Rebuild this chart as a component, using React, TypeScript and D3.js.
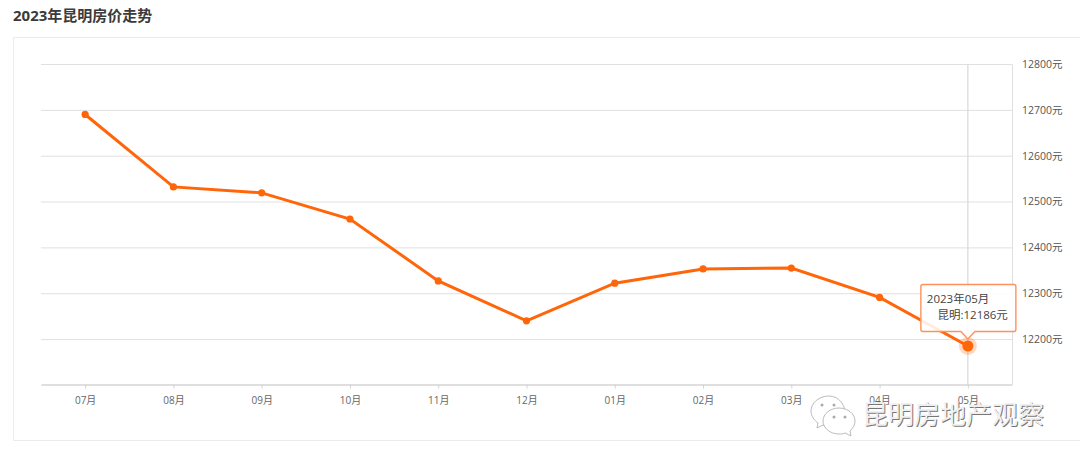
import { useEffect, useRef } from 'react';

import { axisBottom, axisRight, line, scaleLinear, scalePoint, select } from 'd3';

const months = ['07月', '08月', '09月', '10月', '11月', '12月', '01月', '02月', '03月', '04月', '05月'];
const prices = [12691, 12533, 12520, 12463, 12328, 12241, 12323, 12354, 12356, 12292, 12186];
const priceTicks = [12200, 12300, 12400, 12500, 12600, 12700, 12800];

const title = '2023年昆明房价走势';
const tipMonth = '2023年05月';
const tipValue = '昆明:12186元';
const watermark = '昆明房地产观察';

const fontFamily = '"Open Sans", "Noto Sans CJK SC", sans-serif';
const orange = '#ff6509';

export default function App() {
  const svgRef = useRef<SVGSVGElement>(null);

  useEffect(() => {
    const el = svgRef.current;
    if (!el) return;

    const svg = select(el);
    svg.selectAll('*').remove();
    svg.attr('font-family', fontFamily);

    // title and outer frame
    svg
      .append('text')
      .attr('x', 13)
      .attr('y', 21)
      .attr('font-size', 15)
      .attr('font-weight', 700)
      .attr('fill', '#3a3a3a')
      .text(title);

    svg
      .append('rect')
      .attr('x', 13.5)
      .attr('y', 37.5)
      .attr('width', 1080)
      .attr('height', 403)
      .attr('fill', '#fff')
      .attr('stroke', '#ececec');

    const left = 41,
      right = 1012,
      top = 64.5,
      bottom = 384.5;

    const x = scalePoint<string>().domain(months).range([left, right]).padding(0.5);
    const y = scaleLinear().domain([12102, 12800]).range([bottom, top]);

    // horizontal grid lines
    svg
      .append('g')
      .selectAll('line')
      .data(priceTicks)
      .join('line')
      .attr('x1', left)
      .attr('x2', right)
      .attr('y1', (d) => y(d))
      .attr('y2', (d) => y(d))
      .attr('stroke', '#e0e0e0');

    // right axis
    const yAxis = svg
      .append('g')
      .attr('transform', `translate(${right},-0.5)`)
      .call(
        axisRight(y)
          .tickValues(priceTicks)
          .tickSize(0)
          .tickPadding(10)
          .tickFormat((d) => `${d}元`),
      );
    yAxis.select('.domain').attr('stroke', '#e0e0e0');
    yAxis
      .selectAll('text')
      .attr('font-family', fontFamily)
      .attr('font-size', 10.5)
      .attr('fill', '#555');

    // bottom axis
    const xAxis = svg
      .append('g')
      .attr('transform', `translate(0,${bottom})`)
      .call(axisBottom(x).tickSize(4).tickPadding(8).tickSizeOuter(0));
    xAxis.select('.domain').attr('stroke', '#d4d4d4').attr('stroke-width', 1.5);
    xAxis.selectAll('.tick line').attr('stroke', '#d4d4d4');
    xAxis
      .selectAll('text')
      .attr('font-family', fontFamily)
      .attr('font-size', 10)
      .attr('fill', '#666');

    // hover cursor on the last month
    const last = months.length - 1;
    const lastX = x(months[last]) as number;
    const lastY = y(prices[last]);
    svg
      .append('line')
      .attr('x1', lastX)
      .attr('x2', lastX)
      .attr('y1', top)
      .attr('y2', bottom)
      .attr('stroke', '#d8d8d8')
      .attr('stroke-width', 1.2);

    // price line
    const path = line<number>()
      .x((_, i) => x(months[i]) as number)
      .y((d) => y(d));
    svg
      .append('path')
      .attr('d', path(prices))
      .attr('fill', 'none')
      .attr('stroke', orange)
      .attr('stroke-width', 3);

    svg
      .append('g')
      .selectAll('circle')
      .data(prices)
      .join('circle')
      .attr('cx', (_, i) => x(months[i]) as number)
      .attr('cy', (d) => y(d))
      .attr('r', 3.6)
      .attr('fill', orange);

    svg
      .append('circle')
      .attr('cx', lastX)
      .attr('cy', lastY)
      .attr('r', 9)
      .attr('fill', orange)
      .attr('opacity', 0.25);
    svg.append('circle').attr('cx', lastX).attr('cy', lastY).attr('r', 5.5).attr('fill', orange);

    // tooltip
    const tip = svg.append('g').attr('transform', `translate(${lastX},${lastY})`);
    tip
      .append('path')
      .attr(
        'd',
        'M-45,-61.5 H46 Q48,-61.5 48,-59.5 V-16.5 Q48,-14.5 46,-14.5 H7 L0,-7 L-7,-14.5 H-45 Q-47,-14.5 -47,-16.5 V-59.5 Q-47,-61.5 -45,-61.5 Z',
      )
      .attr('fill', '#fff')
      .attr('fill-opacity', 0.88)
      .attr('stroke', '#ff9258')
      .attr('stroke-width', 1.4);
    tip
      .append('text')
      .attr('x', -41)
      .attr('y', -43)
      .attr('font-size', 11.5)
      .attr('fill', '#444')
      .text(tipMonth);
    tip
      .append('text')
      .attr('x', 40)
      .attr('y', -26.5)
      .attr('text-anchor', 'end')
      .attr('font-size', 11.5)
      .attr('fill', '#444')
      .text(tipValue);

    // watermark
    const mark = svg.append('g');
    mark
      .append('text')
      .attr('x', 863)
      .attr('y', 425)
      .attr('font-size', 26)
      .attr('fill', '#777')
      .text(watermark);
    mark
      .append('text')
      .attr('x', 862)
      .attr('y', 424)
      .attr('font-size', 26)
      .attr('fill', '#f0f0f0')
      .text(watermark);

    const icon = mark
      .append('g')
      .attr('fill', '#fff')
      .attr('stroke', '#bbb')
      .attr('stroke-width', 1);
    icon
      .append('path')
      .attr(
        'd',
        'M829,396 C819,396 811,403 811,411 C811,416 814,420 818,423 L817,428 L823,425 C825,426 827,426 830,426 C836,426 843,423 846,418 C846,405 839,396 829,396 Z',
      );
    icon
      .append('path')
      .attr(
        'd',
        'M839,408 C830,408 823,414 823,421 C823,428 830,434 839,434 C841,434 843,434 845,433 L851,436 L850,431 C853,428 855,425 855,421 C855,414 848,408 839,408 Z',
      );
    const eyes = mark.append('g').attr('fill', '#aaa');
    eyes.append('circle').attr('cx', 822).attr('cy', 405).attr('r', 1.5);
    eyes.append('circle').attr('cx', 834).attr('cy', 405).attr('r', 1.5);
    eyes.append('circle').attr('cx', 834).attr('cy', 417).attr('r', 1.5);
    eyes.append('circle').attr('cx', 845).attr('cy', 417).attr('r', 1.5);
  }, []);

  return (
    <svg
      ref={svgRef}
      width={1080}
      height={462}
      style={{ position: 'fixed', left: 0, top: 0, background: '#fff' }}
    />
  );
}
